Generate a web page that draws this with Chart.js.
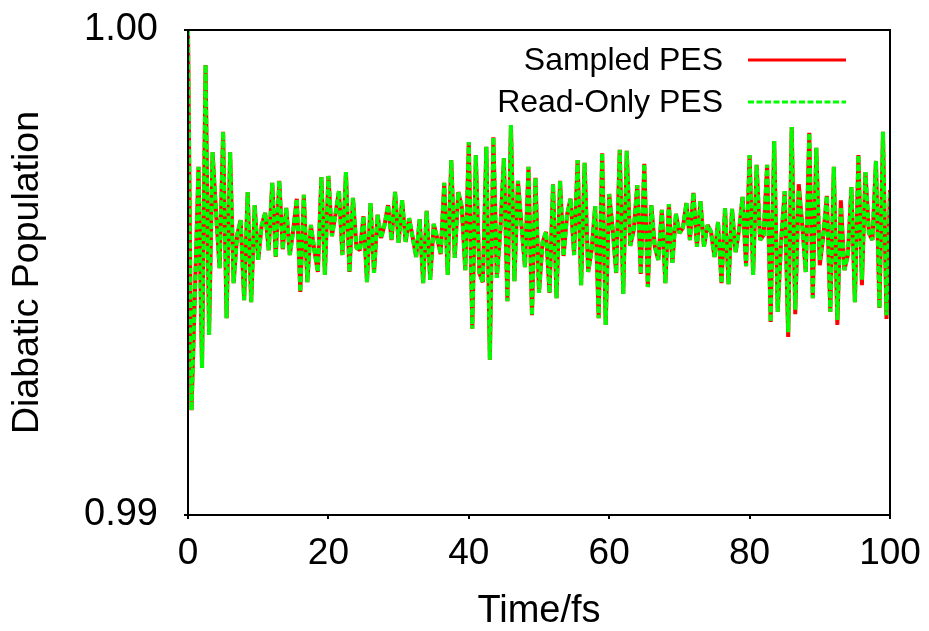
<!DOCTYPE html>
<html>
<head>
<meta charset="utf-8">
<script src="https://cdn.jsdelivr.net/npm/chart.js@4.4.1/dist/chart.umd.min.js"></script>
<style>
  html, body { margin: 0; padding: 0; background: #fff; }
  #wrap { width: 929px; height: 631px; }
</style>
</head>
<body>
<div id="wrap"><canvas id="popChart"></canvas></div>
<script>
// time between samples (fs)
const timeStep = 0.5;

// Sampled PES diabatic population, one value per 0.5 fs
const sampledPES = [
  1.00000, 0.99216, 0.99464, 0.99718, 0.99303, 0.99928, 0.99371, 0.99748, 0.99623, 0.99509,
  0.99790, 0.99406, 0.99748, 0.99478, 0.99577, 0.99608, 0.99443, 0.99666, 0.99439, 0.99639,
  0.99526, 0.99598, 0.99623, 0.99546, 0.99685, 0.99532, 0.99689, 0.99548, 0.99633, 0.99536,
  0.99588, 0.99652, 0.99460, 0.99660, 0.99480, 0.99598, 0.99546, 0.99501, 0.99697, 0.99495,
  0.99699, 0.99575, 0.99619, 0.99668, 0.99536, 0.99707, 0.99501, 0.99654, 0.99551, 0.99546,
  0.99616, 0.99480, 0.99643, 0.99499, 0.99619, 0.99571, 0.99598, 0.99639, 0.99567, 0.99666,
  0.99561, 0.99649, 0.99563, 0.99612, 0.99573, 0.99532, 0.99610, 0.99478, 0.99627, 0.99485,
  0.99600, 0.99571, 0.99538, 0.99685, 0.99495, 0.99732, 0.99530, 0.99666, 0.99635, 0.99505,
  0.99769, 0.99384, 0.99742, 0.99499, 0.99480, 0.99759, 0.99320, 0.99779, 0.99489, 0.99588,
  0.99736, 0.99441, 0.99804, 0.99482, 0.99689, 0.99598, 0.99511, 0.99718, 0.99412, 0.99695,
  0.99458, 0.99561, 0.99584, 0.99458, 0.99682, 0.99447, 0.99689, 0.99534, 0.99619, 0.99652,
  0.99536, 0.99732, 0.99474, 0.99726, 0.99501, 0.99546, 0.99637, 0.99406, 0.99746, 0.99392,
  0.99662, 0.99588, 0.99499, 0.99753, 0.99456, 0.99751, 0.99555, 0.99588, 0.99680, 0.99497,
  0.99724, 0.99470, 0.99639, 0.99553, 0.99526, 0.99629, 0.99478, 0.99641, 0.99520, 0.99621,
  0.99581, 0.99592, 0.99643, 0.99567, 0.99664, 0.99553, 0.99647, 0.99553, 0.99598, 0.99584,
  0.99532, 0.99604, 0.99478, 0.99633, 0.99476, 0.99631, 0.99542, 0.99588, 0.99656, 0.99513,
  0.99742, 0.99495, 0.99722, 0.99567, 0.99577, 0.99722, 0.99398, 0.99771, 0.99419, 0.99567,
  0.99668, 0.99367, 0.99800, 0.99414, 0.99682, 0.99598, 0.99501, 0.99788, 0.99447, 0.99757,
  0.99515, 0.99577, 0.99658, 0.99419, 0.99718, 0.99392, 0.99649, 0.99505, 0.99536, 0.99676,
  0.99439, 0.99742, 0.99474, 0.99707, 0.99581, 0.99567, 0.99730, 0.99427, 0.99790, 0.99404,
  0.99670
];

// Read-Only PES follows the sampled curve; only these samples differ
const readOnlyDiffs = {
  171: 0.99377, 173: 0.99423, 174: 0.99670, 180: 0.99526,
  185: 0.99402, 186: 0.99635, 192: 0.99485, 199: 0.99412
};

const seriesLabels = ['Sampled PES', 'Read-Only PES'];
const xTicks = [0, 20, 40, 60, 80, 100];
const yTicks = [0.99, 1.00];

const FONT = '"Liberation Sans", Arial, Helvetica, sans-serif';

// build {x, y} points
const sampledPoints = sampledPES.map((v, i) => ({ x: i * timeStep, y: v }));
const readOnlyPoints = sampledPES.map((v, i) => ({
  x: i * timeStep,
  y: (i in readOnlyDiffs) ? readOnlyDiffs[i] : v
}));

// box around the plot area
const framePlugin = {
  id: 'frame',
  afterDatasetsDraw(chart) {
    const { ctx, chartArea: a } = chart;
    ctx.save();
    ctx.strokeStyle = '#000';
    ctx.lineWidth = 2;
    ctx.strokeRect(a.left, a.top, a.right - a.left, a.bottom - a.top);
    ctx.restore();
  }
};

// gnuplot style key in the top right corner
const keyPlugin = {
  id: 'key',
  afterDatasetsDraw(chart) {
    const { ctx } = chart;
    const rows = [60, 102];
    ctx.save();
    ctx.font = '32px ' + FONT;
    ctx.textAlign = 'right';
    ctx.textBaseline = 'middle';
    chart.data.datasets.forEach((ds, i) => {
      const y = rows[i];
      ctx.fillStyle = '#000';
      ctx.fillText(ds.label, 723, y + 1);
      ctx.strokeStyle = ds.borderColor;
      ctx.lineWidth = 3;
      ctx.setLineDash(ds.borderDash || []);
      ctx.beginPath();
      ctx.moveTo(748, y);
      ctx.lineTo(846, y);
      ctx.stroke();
    });
    ctx.restore();
  }
};

const ctx = document.getElementById('popChart').getContext('2d');
const popChart = new Chart(ctx, {
  type: 'line',
  data: {
    datasets: [{
      label: seriesLabels[0],
      data: sampledPoints,
      borderColor: '#ff0000',
      borderWidth: 4,
      pointRadius: 0,
      tension: 0,
      borderJoinStyle: 'bevel',
      order: 1
    }, {
      label: seriesLabels[1],
      data: readOnlyPoints,
      borderColor: '#00ff00',
      borderWidth: 4,
      borderDash: [6, 2.5],
      pointRadius: 0,
      tension: 0,
      borderJoinStyle: 'bevel',
      order: 0
    }]
  },
  options: {
    responsive: true,
    maintainAspectRatio: false,
    animation: false,
    layout: { padding: { top: 30, right: 39, left: 0, bottom: 0 } },
    plugins: {
      legend: { display: false },
      tooltip: { enabled: false }
    },
    scales: {
      x: {
        type: 'linear',
        min: 0,
        max: 100,
        afterBuildTicks: (scale) => { scale.ticks = xTicks.map(v => ({ value: v })); },
        afterFit: (scale) => {
          scale.height = 116;
          scale.paddingLeft = 0;
          scale.paddingRight = 0;
        },
        grid: { drawOnChartArea: false, drawTicks: true, tickLength: 4, color: '#000', lineWidth: 2 },
        border: { display: true, color: '#000', width: 2 },
        ticks: {
          color: '#000',
          font: { family: FONT, size: 37 },
          padding: 13,
          maxRotation: 0,
          callback: (v) => String(v)
        },
        title: {
          display: true,
          text: 'Time/fs',
          color: '#000',
          font: { family: FONT, size: 38, lineHeight: 1 },
          padding: { top: 0, bottom: 0 }
        }
      },
      y: {
        type: 'linear',
        min: 0.99,
        max: 1.0,
        afterBuildTicks: (scale) => { scale.ticks = yTicks.map(v => ({ value: v })); },
        afterFit: (scale) => {
          scale.width = 188;
          scale.paddingTop = 0;
          scale.paddingBottom = 0;
        },
        grid: { drawOnChartArea: false, drawTicks: true, tickLength: 4, color: '#000', lineWidth: 2 },
        border: { display: true, color: '#000', width: 2 },
        ticks: {
          color: '#000',
          font: { family: FONT, size: 38 },
          padding: 26,
          callback: (v) => Number(v).toFixed(2)
        },
        title: {
          display: true,
          text: 'Diabatic Population',
          color: '#000',
          font: { family: FONT, size: 37.5, lineHeight: 1 },
          padding: { top: 9, bottom: 0 }
        }
      }
    }
  },
  plugins: [framePlugin, keyPlugin]
});
</script>
</body>
</html>
